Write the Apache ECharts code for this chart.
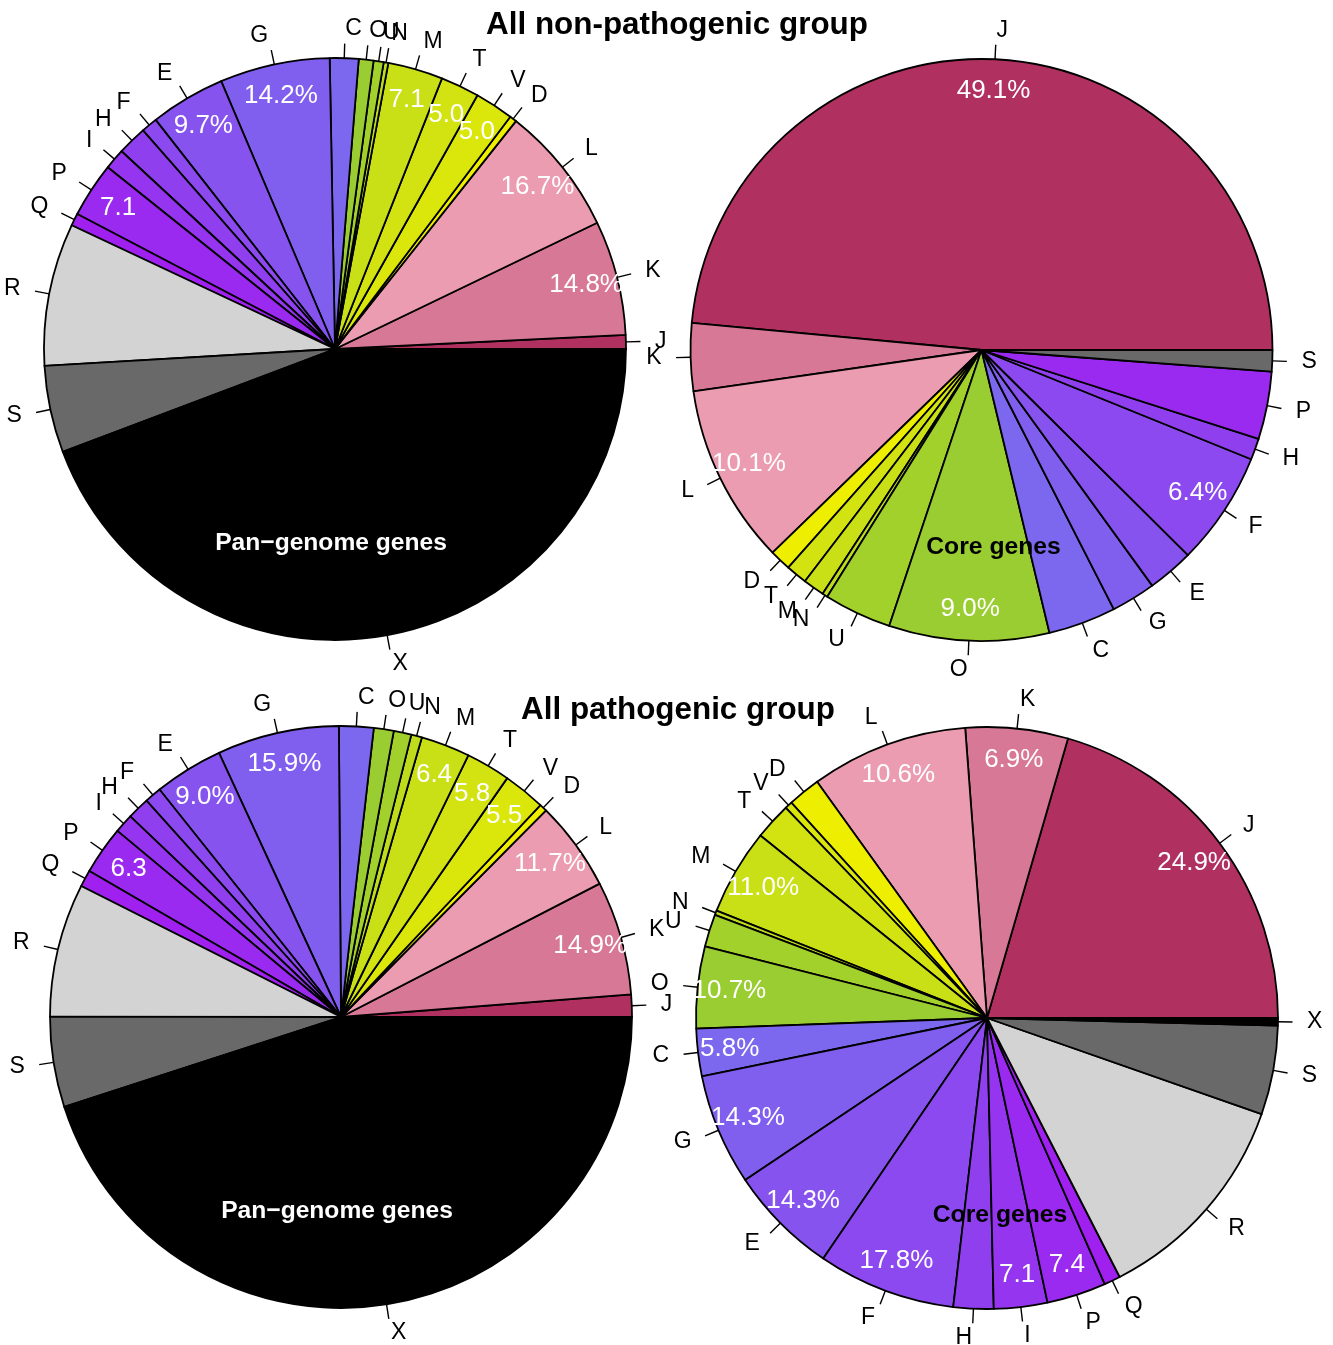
<!DOCTYPE html>
<html>
<head>
<meta charset="utf-8">
<script src="https://cdn.jsdelivr.net/npm/echarts@6/dist/echarts.min.js"></script>
<style>
  html, body { margin: 0; padding: 0; background: #fff; }
  #chart { width: 1333px; height: 1345px; }
</style>
</head>
<body>
<div id="chart"></div>
<script>
// COG functional categories, shares in % of functionally classified genes
// (R, S and X are given in the same units but are not part of that base).
const nonPathPanCats = ['J','K','L','D','V','T','M','N','U','O','C','G','E','F','H','I','P','Q','R','S','X'];
const nonPathPanValues = [1.8,14.8,16.7,0.9,5.0,5.0,7.1,0.6,1.3,1.9,3.7,14.2,9.7,2.1,3.8,2.7,7.1,1.6,18.4,11.2,102.9];
const nonPathPanLabels = ['','14.8%','16.7%','','5.0','5.0','7.1','','','','','14.2%','9.7%','','','','7.1','','','',''];

const nonPathCoreCats = ['J','K','L','D','T','M','N','U','O','C','G','E','F','H','P','S'];
const nonPathCoreValues = [49.1,3.8,10.1,1.2,1.2,1.2,0.3,3.8,9.0,3.8,2.5,2.6,6.4,1.2,3.8,1.2];
const nonPathCoreLabels = ['49.1%','','10.1%','','','','','','9.0%','','','','6.4%','','',''];

const pathPanCats = ['J','K','L','D','V','T','M','N','U','O','C','G','E','F','H','I','P','Q','R','S','X'];
const pathPanValues = [2.9,14.9,11.7,1.0,5.5,5.8,6.4,1.4,2.3,2.6,4.5,15.9,9.0,2.2,2.9,2.5,6.3,2.2,17.4,11.8,105.7];
const pathPanLabels = ['','14.9%','11.7%','','5.5','5.8','6.4','','','','','15.9%','9.0%','','','','6.3','','','',''];

const pathCoreCats = ['J','K','L','D','V','T','M','N','U','O','C','G','E','F','H','I','P','Q','R','S','X'];
const pathCoreValues = [24.9,6.9,10.6,2.2,0.5,2.5,5.8,0.3,2.2,5.5,3.2,7.5,7.4,9.3,2.7,3.6,4.0,1.1,14.7,6.0,0.5];
const pathCoreLabels = ['24.9%','6.9%','10.6%','','','','11.0%','','','10.7%','5.8%','14.3%','14.3%','17.8%','','7.1','7.4','','','',''];

// Colour per COG category
const catColors = {
  J: '#B03060', K: '#D77896', L: '#EB9CB0',
  D: '#EEEE00', V: '#DBE70B', T: '#D2E311', M: '#C9DF16', N: '#BFDC1C', U: '#A3D12C', O: '#9ACD32',
  C: '#7B68EE', G: '#805EEE', E: '#8653EF', F: '#8B49EF', H: '#903FEF', I: '#9535EF', P: '#9B2AF0', Q: '#A020F0',
  R: '#D3D3D3', S: '#696969', X: '#000000'
};

const FONT = '"Liberation Sans", Arial, Helvetica, sans-serif';
const RAD = 291;

function pieSeries(cats, values, labels, center) {
  const data = cats.map((c, i) => ({ name: c, value: values[i], itemStyle: { color: catColors[c] } }));
  const ghost = cats.map((c, i) => ({ name: c, value: values[i] }));
  const common = {
    type: 'pie', center: center, startAngle: 0, clockwise: false,
    avoidLabelOverlap: false, silent: true, animation: false,
    labelLayout: { hideOverlap: false }, emphasis: { disabled: true }
  };
  return [
    // slices with short radial ticks
    Object.assign({}, common, {
      radius: RAD, z: 2, data: data,
      itemStyle: { borderColor: '#000', borderWidth: 1.8 },
      label: { show: true, position: 'outside', formatter: ' ', distanceToLabelLine: 0, fontSize: 2 },
      labelLine: { show: true, length: RAD * 0.05, length2: 0, smooth: false,
                   lineStyle: { color: '#000', width: 1.4 } }
    }),
    // category letters
    Object.assign({}, common, {
      radius: RAD, z: 3, data: ghost,
      itemStyle: { color: 'rgba(0,0,0,0)', borderWidth: 0 },
      label: { show: true, position: 'outside', formatter: '{b}', distanceToLabelLine: 0,
               color: '#000', fontSize: 23, fontFamily: FONT },
      labelLine: { show: false, length: RAD * 0.1, length2: 0 }
    }),
    // percentage labels
    Object.assign({}, common, {
      radius: [RAD * 0.76, RAD], z: 4, data: ghost,
      itemStyle: { color: 'rgba(0,0,0,0)', borderWidth: 0 },
      label: { show: true, position: 'inside', formatter: p => labels[p.dataIndex],
               color: '#fff', fontSize: 26, fontFamily: FONT },
      labelLine: { show: false }
    })
  ];
}

const c1 = [335, 349], c2 = [981.5, 350], c3 = [341, 1017], c4 = [987, 1018];

function txt(x, y, s, size, color) {
  return { type: 'text', x: x, y: y, z: 100, silent: true,
    style: { text: s, font: 'bold ' + size + 'px ' + FONT, fill: color,
             textAlign: 'center', textVerticalAlign: 'middle', verticalAlign: 'middle' } };
}

const chart = echarts.init(document.getElementById('chart'), null, { renderer: 'canvas' });
chart.setOption({
  backgroundColor: '#fff',
  animation: false,
  series: [].concat(
    pieSeries(nonPathPanCats, nonPathPanValues, nonPathPanLabels, c1),
    pieSeries(nonPathCoreCats, nonPathCoreValues, nonPathCoreLabels, c2),
    pieSeries(pathPanCats, pathPanValues, pathPanLabels, c3),
    pieSeries(pathCoreCats, pathCoreValues, pathCoreLabels, c4)
  ),
  graphic: [
    txt(677, 25, 'All non-pathogenic group', 31.4, '#000'),
    txt(678, 710, 'All pathogenic group', 31.4, '#000'),
    txt(c1[0] - 4, c1[1] + 194, 'Pan\u2212genome genes', 24.6, '#fff'),
    txt(c2[0] + 12, c2[1] + 197, 'Core genes', 24.7, '#000'),
    txt(c3[0] - 4, c3[1] + 194, 'Pan\u2212genome genes', 24.6, '#fff'),
    txt(c4[0] + 13, c4[1] + 197, 'Core genes', 24.7, '#000')
  ]
});
</script>
</body>
</html>
